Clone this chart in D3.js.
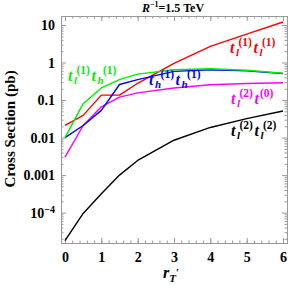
<!DOCTYPE html>
<html>
<head>
<script type="text/javascript" src="https://cdn.jsdelivr.net/npm/d3@7"></script>
<style>
  body { margin: 0; background: #fff; }
  text { font-family: "Liberation Serif", "Times New Roman", serif; font-weight: bold; }
</style>
</head>
<body>
<script type="text/javascript">
var w = 291;
var h = 285;
var frame = { left: 61, right: 287, top: 16, bottom: 243 };

// r_T' values
var rT = [0, 0.5, 1, 1.5, 2, 3, 4, 5, 6];
// cross sections (pb)
var tl1tl1 = [0.021, 0.039, 0.135, 0.135, 0.28, 0.95, 2.7, 5.7, 12];
var tl1th1 = [0.01, 0.08, 0.21, 0.35, 0.49, 0.64, 0.68, 0.62, 0.52];
var th1th1 = [0.01, 0.021, 0.053, 0.26, 0.35, 0.58, 0.64, 0.6, 0.51];
var tl2t0  = [0.003, 0.021, 0.066, 0.12, 0.155, 0.21, 0.255, 0.275, 0.29];
var tl2tl2 = [1.8e-5, 9.5e-5, 3.2e-4, 1.0e-3, 2.45e-3, 8.5e-3, 0.0186, 0.032, 0.051];

var xTicks = [0, 1, 2, 3, 4, 5, 6];
var yTicks = [10, 1, 0.1, 0.01, 0.001, 1e-4];
var yTickLabels = ["10", "1", "0.1", "0.01", "0.001", "10-4"];

var series = [
  { values: tl2tl2, color: "#000000" },
  { values: tl2t0, color: "#ff00ff" },
  { values: tl1tl1, color: "#ff0000" },
  { values: th1th1, color: "#0000ff" },
  { values: tl1th1, color: "#00ee00" }
];

var svg = d3.select("body").append("svg")
  .attr("width", w)
  .attr("height", h);

var xScale = d3.scaleLinear()
  .domain([-0.11, 6.11])
  .range([frame.left, frame.right]);

var yScale = d3.scaleLog()
  .domain([Math.pow(10, -4.81), Math.pow(10, 1.24)])
  .range([frame.bottom, frame.top]);

// minor ticks
var xMinor = d3.range(0, 6.01, 0.2).map(function (d) { return +d.toFixed(1); });
var yMinor = [];
for (var e = -5; e <= 1; e++) {
  for (var m = 2; m <= 9; m++) {
    var v = m * Math.pow(10, e);
    if (v > yScale.domain()[0] && v < yScale.domain()[1]) yMinor.push(v);
  }
}

function styleAxis(g) {
  g.select(".domain").attr("stroke", "#999");
  g.selectAll(".tick line").attr("stroke", "#999");
}

// bottom
svg.append("g").attr("transform", "translate(0," + frame.bottom + ")")
  .call(d3.axisBottom(xScale).tickValues(xMinor).tickSizeInner(-2.5).tickSizeOuter(0).tickFormat(""))
  .call(styleAxis);
svg.append("g").attr("transform", "translate(0," + frame.bottom + ")")
  .call(d3.axisBottom(xScale).tickValues(xTicks).tickSizeInner(-5).tickSizeOuter(0).tickPadding(9)
    .tickFormat(d3.format("d")))
  .call(styleAxis)
  .call(function (g) {
    g.selectAll(".tick text").attr("fill", "#000").attr("font-size", 14);
  });
// top
svg.append("g").attr("transform", "translate(0," + frame.top + ")")
  .call(d3.axisTop(xScale).tickValues(xMinor).tickSizeInner(-2.5).tickSizeOuter(0).tickFormat(""))
  .call(styleAxis);
svg.append("g").attr("transform", "translate(0," + frame.top + ")")
  .call(d3.axisTop(xScale).tickValues(xTicks).tickSizeInner(-5).tickSizeOuter(0).tickFormat(""))
  .call(styleAxis);
// left
svg.append("g").attr("transform", "translate(" + frame.left + ",0)")
  .call(d3.axisLeft(yScale).tickValues(yMinor).tickSizeInner(-2.5).tickSizeOuter(0).tickFormat(""))
  .call(styleAxis);
svg.append("g").attr("transform", "translate(" + frame.left + ",0)")
  .call(d3.axisLeft(yScale).tickValues(yTicks).tickSizeInner(-5).tickSizeOuter(0).tickPadding(6)
    .tickFormat(function (d, i) { return yTickLabels[i]; }))
  .call(styleAxis)
  .call(function (g) {
    g.selectAll(".tick text").attr("fill", "#000").attr("font-size", 14)
      .each(function (d, i) {
        if (yTickLabels[i] === "10-4") {
          var t = d3.select(this).text("");
          t.append("tspan").text("10");
          t.append("tspan").attr("dy", -5).attr("font-size", 10).text("\u22124");
        }
      });
  });
// right
svg.append("g").attr("transform", "translate(" + frame.right + ",0)")
  .call(d3.axisRight(yScale).tickValues(yMinor).tickSizeInner(-2.5).tickSizeOuter(0).tickFormat(""))
  .call(styleAxis);
svg.append("g").attr("transform", "translate(" + frame.right + ",0)")
  .call(d3.axisRight(yScale).tickValues(yTicks).tickSizeInner(-5).tickSizeOuter(0).tickFormat(""))
  .call(styleAxis);

// curves
var line = d3.line()
  .x(function (d, i) { return xScale(rT[i]); })
  .y(function (d) { return yScale(d); });

svg.append("g").selectAll("path")
  .data(series)
  .enter().append("path")
  .attr("fill", "none")
  .attr("stroke", function (d) { return d.color; })
  .attr("stroke-width", 1.4)
  .attr("stroke-linejoin", "round")
  .attr("d", function (d) { return line(d.values); });

// curve labels: t with sub/superscripts
function addLabel(x, y, color, parts) {
  var t = svg.append("text").attr("x", x).attr("y", y)
    .attr("fill", color).attr("font-style", "italic").attr("font-size", 16);
  parts.forEach(function (p, i) {
    t.append("tspan").attr("y", y).attr("dx", i ? 1.5 : 0).text("t");
    if (p.sub) {
      t.append("tspan").attr("font-size", 11).attr("dx", 1.5).attr("y", y + 3).text(p.sub);
    }
    t.append("tspan").attr("font-size", 11.5).attr("font-style", "normal")
      .attr("dx", p.sub ? -0.5 : 1).attr("y", y - 7).text(p.sup);
  });
}

addLabel(230, 53, "#ff0000", [{ sub: "l", sup: "(1)" }, { sub: "l", sup: "(1)" }]);
addLabel(68, 81, "#00ee00", [{ sub: "l", sup: "(1)" }, { sub: "h", sup: "(1)" }]);
addLabel(149, 85, "#0000ff", [{ sub: "h", sup: "(1)" }, { sub: "h", sup: "(1)" }]);
addLabel(231, 104, "#ff00ff", [{ sub: "l", sup: "(2)" }, { sup: "(0)" }]);
addLabel(231, 136, "#000000", [{ sub: "l", sup: "(2)" }, { sub: "l", sup: "(2)" }]);

// title
var title = svg.append("text").attr("x", 173).attr("y", 12)
  .attr("text-anchor", "middle").attr("font-size", 12);
title.append("tspan").attr("font-style", "italic").text("R");
title.append("tspan").attr("font-size", 8).attr("dy", -5).text("\u22121");
title.append("tspan").attr("dy", 5).text("=1.5 TeV");

// axis labels
svg.append("text")
  .attr("transform", "translate(15," + 129 + ") rotate(-90)")
  .attr("text-anchor", "middle").attr("font-size", 15)
  .text("Cross Section (pb)");

var xl = svg.append("text").attr("x", 163).attr("y", 278)
  .attr("font-size", 16).attr("font-style", "italic");
xl.append("tspan").text("r");
xl.append("tspan").attr("font-size", 11).attr("y", 282).text("T");
xl.append("tspan").attr("font-size", 11).attr("dx", 0).attr("y", 276).attr("font-style", "normal").text("\u2032");
</script>
</body>
</html>
